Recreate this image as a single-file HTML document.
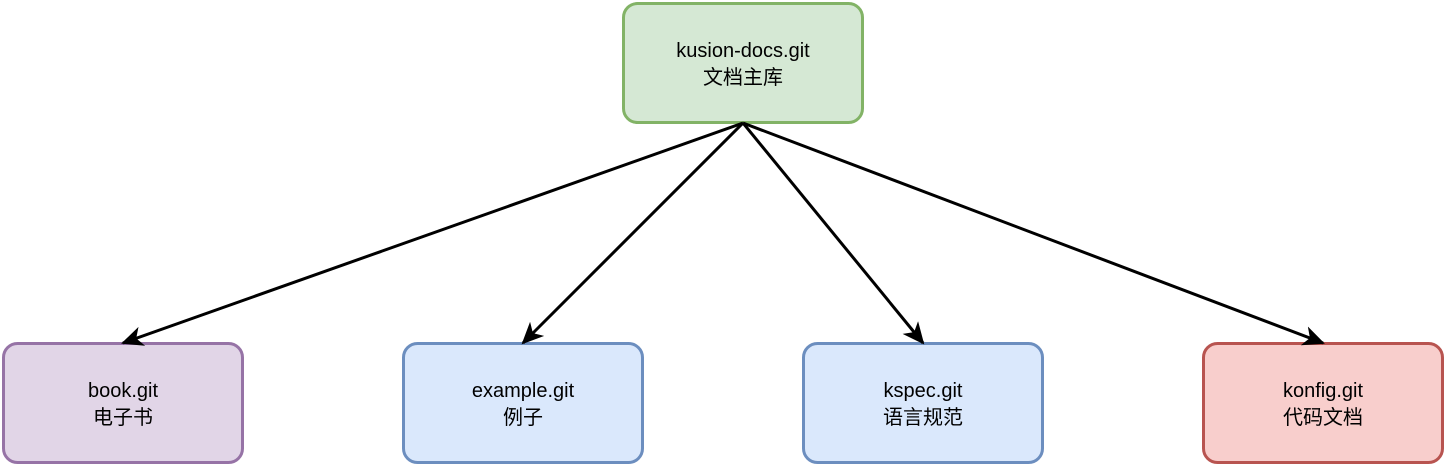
<!DOCTYPE html>
<html><head><meta charset="utf-8"><style>
html,body{margin:0;padding:0;background:#fff;}
svg{display:block}
text{font-family:"Liberation Sans","Noto Sans CJK SC",sans-serif;font-size:20px;fill:#000;text-anchor:middle}
</style></head><body>
<svg width="1444" height="464" viewBox="0 0 1444 464">
<defs>
<marker id="a" markerWidth="24" markerHeight="20" refX="20" refY="10" orient="auto" markerUnits="userSpaceOnUse" viewBox="0 0 24 20">
<path d="M0,0 L22,10 L0,20 L6,10 Z" fill="#000"/>
</marker>
</defs>
<rect x="623.5" y="3.5" width="239" height="119" rx="14" fill="#d5e8d4" stroke="#82b366" stroke-width="3"/>
<rect x="3.5" y="343.5" width="239" height="119" rx="14" fill="#e1d5e7" stroke="#9673a6" stroke-width="3"/>
<rect x="403.5" y="343.5" width="239" height="119" rx="14" fill="#dae8fc" stroke="#6c8ebf" stroke-width="3"/>
<rect x="803.5" y="343.5" width="239" height="119" rx="14" fill="#dae8fc" stroke="#6c8ebf" stroke-width="3"/>
<rect x="1203.5" y="343.5" width="239" height="119" rx="14" fill="#f8cecc" stroke="#b85450" stroke-width="3"/>
<g stroke="#000" stroke-width="3" fill="none">
<line x1="743" y1="123" x2="123" y2="343" marker-end="url(#a)"/>
<line x1="743" y1="123" x2="523" y2="343" marker-end="url(#a)"/>
<line x1="743" y1="123" x2="923" y2="343" marker-end="url(#a)"/>
<line x1="743" y1="123" x2="1323" y2="343" marker-end="url(#a)"/>
</g>
<text x="743" y="57">kusion-docs.git</text><text x="743" y="84">文档主库</text>
<text x="123" y="397">book.git</text><text x="123" y="424">电子书</text>
<text x="523" y="397">example.git</text><text x="523" y="424">例子</text>
<text x="923" y="397">kspec.git</text><text x="923" y="424">语言规范</text>
<text x="1323" y="397">konfig.git</text><text x="1323" y="424">代码文档</text>
</svg>
</body></html>
